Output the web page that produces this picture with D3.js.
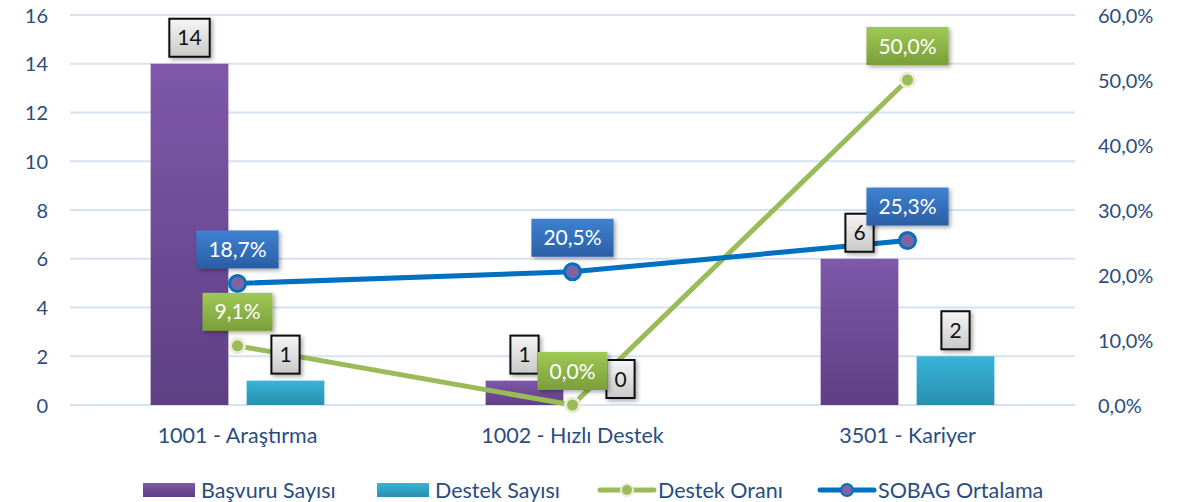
<!DOCTYPE html>
<html>
<head>
<meta charset="utf-8">
<script src="https://cdn.jsdelivr.net/npm/d3@7"></script>
<style>
  body { margin: 0; background: #fff; }
  text { font-family: Lato, "Open Sans", sans-serif; }
</style>
</head>
<body>
<div id="chartArea"></div>
<script>
const width = 1187;
const height = 502;

const categories = ["1001 - Araştırma", "1002 - Hızlı Destek", "3501 - Kariyer"];
const basvuru = [14, 1, 6];
const destek = [1, 0, 2];
const destekOrani = [0.091, 0.0, 0.5];
const sobag = [0.187, 0.205, 0.253];
const leftTicks = [0, 2, 4, 6, 8, 10, 12, 14, 16];
const rightTicks = [0, 0.1, 0.2, 0.3, 0.4, 0.5, 0.6];

const axisColor = "#2a4d7f";
const fmtPct = v => d3.format(".1f")(v * 100).replace(".", ",") + "%";

const svg = d3.select("#chartArea").append("svg")
    .attr("width", width)
    .attr("height", height);

const defs = svg.append("defs");
function grad(id, top, bottom) {
    const g = defs.append("linearGradient").attr("id", id)
        .attr("x1", 0).attr("y1", 0).attr("x2", 0).attr("y2", 1);
    g.append("stop").attr("offset", "0%").attr("stop-color", top);
    g.append("stop").attr("offset", "100%").attr("stop-color", bottom);
}
grad("gPurple", "#7f58a9", "#5e3f83");
grad("gCyan", "#37b4d8", "#2a8fae");
grad("gBlueBox", "#3d82d2", "#2b5ea4");
grad("gGreenBox", "#9fc955", "#7a9e3a");
grad("gGrayBox", "#f6f6f6", "#c9c9c9");

const shadow = defs.append("filter").attr("id", "shadow")
    .attr("x", "-20%").attr("y", "-20%").attr("width", "150%").attr("height", "150%");
shadow.append("feDropShadow").attr("dx", 2).attr("dy", 2).attr("stdDeviation", 2)
    .attr("flood-color", "#000").attr("flood-opacity", 0.35);

const x = d3.scaleBand().domain(categories).range([70, 1075]);
const xInner = d3.scaleBand().domain(["basvuru", "destek"])
    .range([0, x.bandwidth()]).paddingInner(0.19).paddingOuter(0.84);
const yLeft = d3.scaleLinear().domain([0, 16]).range([405, 15]);
const yRight = d3.scaleLinear().domain([0, 0.6]).range([405, 15]);

// gridlines
svg.append("g").selectAll("line").data(leftTicks).enter().append("line")
    .attr("x1", 70).attr("x2", 1075)
    .attr("y1", d => yLeft(d)).attr("y2", d => yLeft(d))
    .attr("stroke", "#d6e2f2").attr("stroke-width", 2);

// axes
const leftAxis = svg.append("g").attr("transform", "translate(48,0)")
    .call(d3.axisLeft(yLeft).tickValues(leftTicks).tickSize(0).tickPadding(0));
const rightAxis = svg.append("g").attr("transform", "translate(1098,0)")
    .call(d3.axisRight(yRight).tickValues(rightTicks).tickFormat(fmtPct).tickSize(0).tickPadding(0));
const bottomAxis = svg.append("g").attr("transform", "translate(0,424)")
    .call(d3.axisBottom(x).tickSize(0).tickPadding(0));
[leftAxis, rightAxis, bottomAxis].forEach(a => {
    a.select(".domain").remove();
    a.selectAll("text").attr("fill", axisColor).style("font-size", "20px");
});
bottomAxis.selectAll("text").style("font-size", "21.5px");
leftAxis.selectAll("text").attr("dy", "0.35em");
rightAxis.selectAll("text").attr("dy", "0.35em");
bottomAxis.selectAll("text").attr("dy", "0.9em");

// bars
const barSeries = [
    { key: "basvuru", values: basvuru, fill: "url(#gPurple)" },
    { key: "destek", values: destek, fill: "url(#gCyan)" }
];
const barData = [];
barSeries.forEach(s => {
    s.values.forEach((v, i) => barData.push({ key: s.key, cat: categories[i], value: v, fill: s.fill }));
});
svg.append("g").selectAll("rect").data(barData.filter(d => d.value > 0)).enter().append("rect")
    .attr("x", d => x(d.cat) + xInner(d.key))
    .attr("y", d => yLeft(d.value))
    .attr("width", xInner.bandwidth())
    .attr("height", d => yLeft(0) - yLeft(d.value))
    .attr("fill", d => d.fill);

// lines
const cx = c => x(c) + x.bandwidth() / 2;
const lineSeries = [
    { values: destekOrani, stroke: "#9bbb59", dot: "#9bbb59", dotStroke: "#ecebd5", r: 7, box: "url(#gGreenBox)" },
    { values: sobag, stroke: "#0070c0", dot: "#8064a2", dotStroke: "#0070c0", r: 8, box: "url(#gBlueBox)" }
];
const line = d3.line().x(d => cx(d.cat)).y(d => yRight(d.value));
lineSeries.forEach(s => {
    const pts = s.values.map((v, i) => ({ cat: categories[i], value: v }));
    svg.append("path").datum(pts)
        .attr("d", line).attr("fill", "none")
        .attr("stroke", s.stroke).attr("stroke-width", 5);
    svg.append("g").selectAll("circle").data(pts).enter().append("circle")
        .attr("cx", d => cx(d.cat)).attr("cy", d => yRight(d.value))
        .attr("r", s.r).attr("fill", s.dot)
        .attr("stroke", s.dotStroke).attr("stroke-width", 3);
    s.pts = pts;
});

// data labels
function label(cxPos, bottom, text, fill, textColor, border, padX) {
    const g = svg.append("g");
    const t = g.append("text").text(text)
        .attr("x", cxPos).attr("y", bottom - 19 + 7.5)
        .attr("text-anchor", "middle")
        .attr("fill", textColor)
        .style("font-size", "21px");
    const w = t.node().getComputedTextLength() + padX * 2;
    g.insert("rect", "text")
        .attr("x", cxPos - w / 2).attr("y", bottom - 38)
        .attr("width", w).attr("height", 38)
        .attr("fill", fill)
        .attr("stroke", border).attr("stroke-width", border === "none" ? 0 : 2)
        .attr("filter", "url(#shadow)");
}

barData.forEach(d => {
    label(x(d.cat) + xInner(d.key) + xInner.bandwidth() / 2, yLeft(d.value) - 7,
        String(d.value), "url(#gGrayBox)", "#111", "#111", 8);
});
lineSeries.forEach(s => {
    s.pts.forEach(d => {
        label(cx(d.cat), yRight(d.value) - 15, fmtPct(d.value), s.box, "#fff", "none", 12);
    });
});

// legend
const legend = svg.append("g").attr("transform", "translate(0,490)");
const legendItems = [
    { name: "Başvuru Sayısı", type: "bar", fill: "url(#gPurple)", x: 143 },
    { name: "Destek Sayısı", type: "bar", fill: "url(#gCyan)", x: 377 },
    { name: "Destek Oranı", type: "line", stroke: "#9bbb59", dot: "#9bbb59", dotStroke: "#ecebd5", x: 600 },
    { name: "SOBAG Ortalama", type: "line", stroke: "#0070c0", dot: "#8064a2", dotStroke: "#0070c0", x: 820 }
];
legendItems.forEach(it => {
    if (it.type === "bar") {
        legend.append("rect").attr("x", it.x).attr("y", -7).attr("width", 52).attr("height", 14)
            .attr("fill", it.fill);
    } else {
        legend.append("line").attr("x1", it.x).attr("x2", it.x + 54).attr("y1", 0).attr("y2", 0)
            .attr("stroke", it.stroke).attr("stroke-width", 5).attr("stroke-linecap", "round");
        legend.append("circle").attr("cx", it.x + 27).attr("cy", 0).attr("r", 6)
            .attr("fill", it.dot).attr("stroke", it.dotStroke).attr("stroke-width", 2);
    }
    legend.append("text").attr("x", it.x + 58).attr("y", 0).attr("dy", "0.35em")
        .attr("fill", axisColor).style("font-size", "21.5px").text(it.name);
});
</script>
</body>
</html>
